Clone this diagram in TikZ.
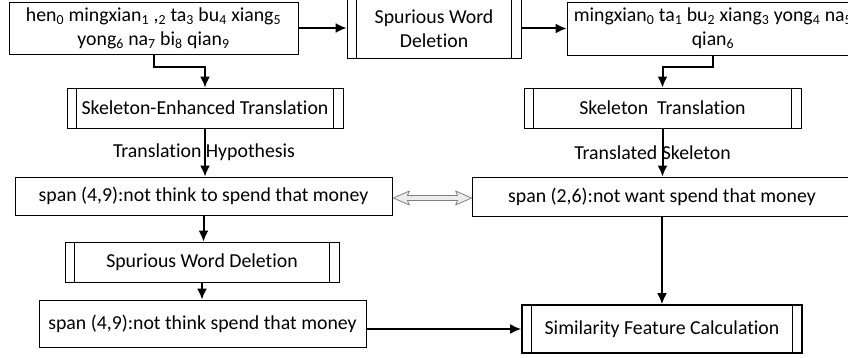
\documentclass[tikz,border=0pt]{standalone}
\usepackage{fontspec}
\setmainfont{Carlito}[Ligatures=NoCommon]
\usetikzlibrary{arrows.meta,calc}
\tikzset{
  wh/.style 2 args={minimum width=#1pt,minimum height=#2pt},
  txtbox/.style={draw,line width=0.8pt,align=center,inner sep=0pt},
  procbox/.style={txtbox,path picture={
      \draw[line width=0.8pt] ([xshift=9.5pt]path picture bounding box.north west) -- ([xshift=9.5pt]path picture bounding box.south west)
        ([xshift=-9.5pt]path picture bounding box.north east) -- ([xshift=-9.5pt]path picture bounding box.south east);}},
  flow/.style={line width=2pt,-{Latex[length=11pt,width=10pt]}},
}
\begin{document}
\begin{tikzpicture}[x=1pt,y=-1pt,font=\fontsize{19.8}{24}\selectfont]
    \useasboundingbox (0,0) rectangle (848,358);
    \node[txtbox,wh={289}{52}] (src) at (153.5,28) {hen\textsubscript{0} mingxian\textsubscript{1} ,\textsubscript{2} ta\textsubscript{3} bu\textsubscript{4} xiang\textsubscript{5}\\yong\textsubscript{6} na\textsubscript{7} bi\textsubscript{8} qian\textsubscript{9}};
    \node[procbox,wh={174}{59}] (swd1) at (434,28.5) {Spurious Word\\Deletion};
    \node[txtbox,wh={292}{53}] (tgt) at (713,28.5) {mingxian\textsubscript{0} ta\textsubscript{1} bu\textsubscript{2} xiang\textsubscript{3} yong\textsubscript{4} na\textsubscript{5}\\qian\textsubscript{6}};
    \node[procbox,wh={276}{40}] (set) at (205,108) {Skeleton-Enhanced Translation};
    \node[procbox,wh={277}{40}] (skt) at (662.5,108) {Skeleton\ \ Translation};
    \node[txtbox,wh={377}{38}] (hyp) at (203.5,196) {span (4,9):not think to spend that money};
    \node[txtbox,wh={380}{39}] (skel) at (662,196.5) {span (2,6):not want spend that money};
    \node[procbox,wh={274}{40}] (swd2) at (202,262) {Spurious Word Deletion};
    \node[txtbox,wh={327}{47}] (del) at (202.5,323.5) {span (4,9):not think spend that money};
    \node[procbox,line width=1.6pt,wh={280}{48}] (sfc) at (662,329) {Similarity Feature Calculation};
    \coordinate (k1) at (205,67);
    \coordinate (k2) at (662.5,67);
    \coordinate (ha) at ($(hyp.east)+(1,2)$);
    \coordinate (hb) at (ha -| skel.west);
    \draw[flow] (src.east) -- (src.east -| swd1.west);
    \draw[flow] (swd1.east) -- (swd1.east -| tgt.west);
    \draw[flow] (src.south) |- (k1) -- (set.north);
    \draw[flow] (tgt.south) |- (k2) -- (skt.north);
    \draw[flow] (set.south) -- node[xshift=-1pt] {Translation Hypothesis} (set.south |- hyp.north);
    \draw[flow] (skt.south) -- node[xshift=-10pt] {Translated Skeleton} (skt.south |- skel.north);
    \draw[gray,line width=0.8pt,fill=gray!15,line join=round] (ha) -- ++(16,-7) -- ++(-2,4.5) -- ($(hb)+(-14,-2.5)$)
      -- ++(-2,-4.5) -- (hb) -- ++(-16,7) -- ++(2,-4.5) -- ($(ha)+(14,2.5)$) -- ++(2,4.5) -- cycle;
    \draw[flow] (hyp.south) -- (hyp.south |- swd2.north);
    \draw[flow] (swd2.south) -- (swd2.south |- del.north);
    \draw[flow] (sfc.west -| del.east) -- (sfc.west);
    \draw[flow] (skel.south) -- (skel.south |- sfc.north);
\end{tikzpicture}
\end{document}
